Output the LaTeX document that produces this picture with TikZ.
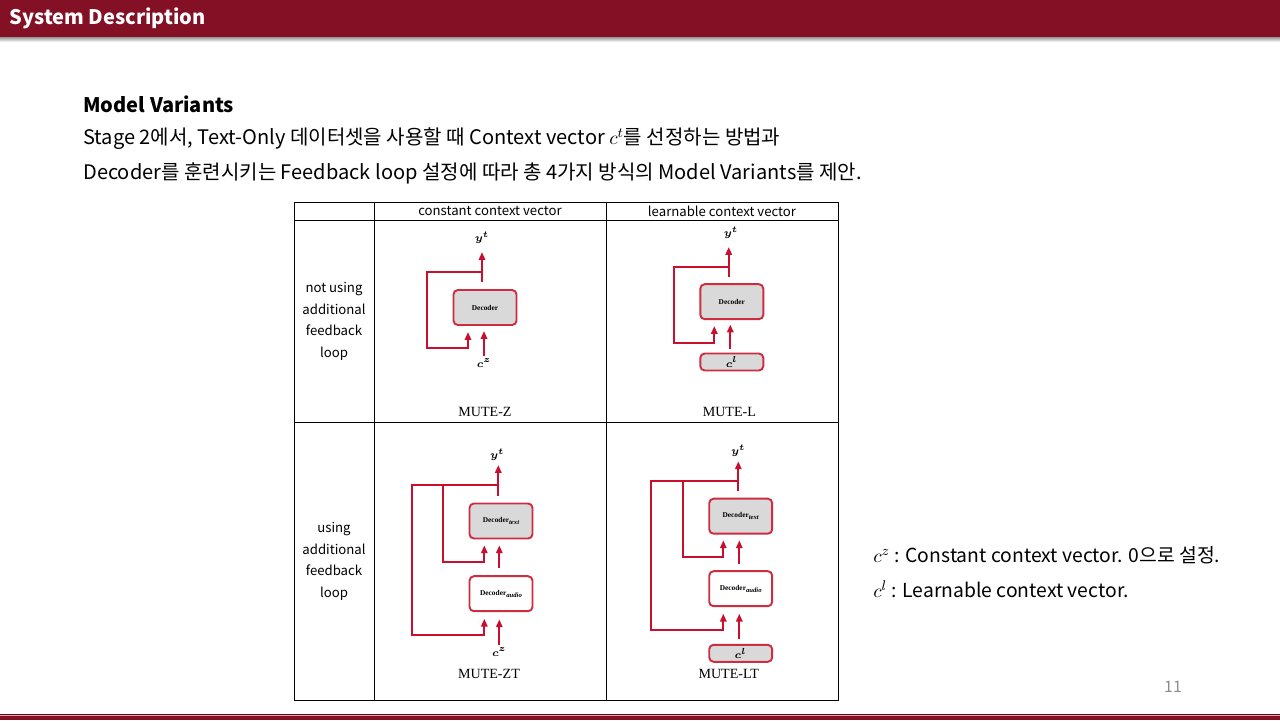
\documentclass[tikz,border=0pt]{standalone}
\usepackage{fontspec}
\setmainfont{Noto Sans CJK KR}
\newfontfamily\paperserif{Liberation Serif}
\usetikzlibrary{arrows.meta,calc}
\definecolor{crim}{RGB}{132,16,38}
\definecolor{redarr}{RGB}{200,16,46}
\definecolor{boxred}{RGB}{205,45,65}
\definecolor{boxgray}{RGB}{217,217,217}
\definecolor{pinkline}{RGB}{232,160,165}
\def\pxu{0.56906pt}
\newcommand\subtxt[1]{\raisebox{-1.1pt}{\fontsize{3.8}{4}\selectfont\itshape #1}}
\tikzset{
  ln/.style={draw=redarr, line width=1.2pt},
  arr/.style={ln, -{Triangle[length=4.5pt,width=3.6pt]}},
  dbox/.style={draw=boxred, line width=1.1pt, rounded corners=2.5pt, fill=boxgray,
    minimum width=63*\pxu, minimum height=35*\pxu, inner sep=0pt,
    font=\paperserif\bfseries\fontsize{4.2}{5}\selectfont},
  wbox/.style={dbox, fill=white},
  cbox/.style={dbox, minimum height=17*\pxu, font=\fontsize{6.5}{7}\selectfont\boldmath},
  lab/.style={inner sep=0pt, font=\fontsize{6.5}{7}\selectfont\boldmath},
  mute/.style={inner sep=0pt, font=\paperserif\fontsize{8}{9}\selectfont},
  hdr/.style={inner sep=0pt, font=\fontsize{7.5}{9}\selectfont},
  cell/.style={inner sep=0pt, align=center, font=\fontsize{7.5}{12.2}\selectfont},
  body/.style={anchor=west, inner sep=0pt, font=\fontsize{11.4}{13}\selectfont},
  grid/.style={draw=black, line width=0.45pt}
}
\begin{document}
\begin{tikzpicture}[x=0.02cm, y=-0.02cm]
\useasboundingbox (0,0) rectangle (1280,720);
\fill[white] (0,0) rectangle (1280,720);
% header
\shade[top color=black!50, bottom color=white] (0,36) rectangle (1280,42);
\fill[crim] (0,0) rectangle (1280,36.5);
\node[anchor=west, inner sep=0pt, text=white, font=\bfseries\fontsize{11.4}{14}\selectfont] (title) at (9,18) {System Description};
% footer
\draw[crim!70!black, line width=0.5pt] (0,714.2) -- (1280,714.2);
\fill[pinkline] (0,714.6) rectangle (1280,716.3);
\fill[crim] (0,716.3) rectangle (1280,720);
% body text
\node[body, font=\bfseries\fontsize{11.4}{13}\selectfont] (mv) at (83,104) {Model Variants};
\node[body] (l1) at (83,139) {Stage 2에서, Text-Only 데이터셋을 사용할 때 Context vector $c^t$를 선정하는 방법과};
\node[body] (l2) at (83,173) {Decoder를 훈련시키는 Feedback loop 설정에 따라 총 4가지 방식의 Model Variants를 제안.};
% table grid
\draw[grid] (294,202) rectangle (838,700);
\draw[grid] (374,202) -- (374,700);
\draw[grid] (606,202) -- (606,700);
\draw[grid] (294,220) -- (838,220);
\draw[grid] (294,422) -- (838,422);
\node[hdr] (h1) at (490,211) {constant context vector};
\node[hdr] (h2) at (722,211) {learnable context vector};
\node[cell] (r1) at (334,321.5) {not using\\additional\\feedback\\loop};
\node[cell] (r2) at (334,561.5) {using\\additional\\feedback\\loop};
% ---------- MUTE-Z
\node[dbox] (zd) at (485,307.5) {Decoder};
\node[lab] (zy) at (482,238) {$y^t$};
\node[lab] (zc) at (484,363) {$c^z$};
\node[mute] (zm) at (485,412) {MUTE-Z};
\coordinate (zyo) at (482,282);
\coordinate (zyt) at (482,252);
\coordinate (zbr) at (482,272);
\coordinate (zlp) at (427,348);
\coordinate (zft) at (468,332);
\coordinate (zis) at (484,356);
\coordinate (zit) at (484,331);
\draw[arr] (zyo) -- (zyt);
\draw[arr] (zbr) -| (zlp) -| (zft);
\draw[arr] (zis) -- (zit);
% ---------- MUTE-L
\node[dbox] (ld) at (731.8,301.7) {Decoder};
\node[cbox] (lc) at (731.8,362) {$c^l$};
\node[lab] (ly) at (731,233) {$y^t$};
\node[mute] (lm) at (729.3,412) {MUTE-L};
\coordinate (lyo) at (728.7,277);
\coordinate (lyt) at (728.7,247);
\coordinate (lbr) at (728.7,267);
\coordinate (llp) at (674,343);
\coordinate (lft) at (714.3,326);
\coordinate (lis) at (730.3,349);
\coordinate (lit) at (730.3,324.5);
\draw[arr] (lyo) -- (lyt);
\draw[arr] (lbr) -| (llp) -| (lft);
\draw[arr] (lis) -- (lit);
% ---------- MUTE-ZT
\node[dbox] (ztt) at (501,521) {Decoder\subtxt{text}};
\node[wbox] (zta) at (501,593.7) {Decoder\subtxt{audio}};
\node[lab] (zty) at (497.3,455) {$y^t$};
\node[lab] (ztc) at (499.3,652) {$c^z$};
\node[mute] (ztm) at (489,674) {MUTE-ZT};
\coordinate (ztyo) at (498.3,496);
\coordinate (ztyt) at (498.3,465);
\coordinate (ztbr) at (498.3,484.7);
\coordinate (ztol) at (411.7,635.3);
\coordinate (ztot) at (484.3,618.7);
\coordinate (ztib) at (442.7,484.7);
\coordinate (ztil) at (484.3,562);
\coordinate (ztit) at (484.3,545.3);
\coordinate (ztms) at (499.3,568);
\coordinate (ztmt) at (499.3,545.3);
\coordinate (ztis) at (499.3,645.3);
\coordinate (ztitp) at (499.3,619.3);
\draw[arr] (ztyo) -- (ztyt);
\draw[arr] (ztbr) -| (ztol) -| (ztot);
\draw[arr] (ztib) |- (ztil) -- (ztit);
\draw[arr] (ztms) -- (ztmt);
\draw[arr] (ztis) -- (ztitp);
% ---------- MUTE-LT
\node[dbox] (ltt) at (740.7,516.2) {Decoder\subtxt{text}};
\node[wbox] (lta) at (740.7,588.7) {Decoder\subtxt{audio}};
\node[cbox] (ltc) at (740.7,653.3) {$c^l$};
\node[lab] (lty) at (738.3,451) {$y^t$};
\node[mute] (ltm) at (728.7,674) {MUTE-LT};
\coordinate (ltyo) at (738.3,491.3);
\coordinate (ltyt) at (738.3,461.3);
\coordinate (ltbr) at (738.3,481);
\coordinate (ltol) at (651,630.3);
\coordinate (ltot) at (723.3,613.7);
\coordinate (ltib) at (683.3,481);
\coordinate (ltil) at (723.3,557);
\coordinate (ltit) at (723.3,540.3);
\coordinate (ltms) at (739.3,563.7);
\coordinate (ltmt) at (739.3,540.3);
\coordinate (ltis) at (739.3,638.7);
\coordinate (ltitp) at (739.3,613.7);
\draw[arr] (ltyo) -- (ltyt);
\draw[arr] (ltbr) -| (ltol) -| (ltot);
\draw[arr] (ltib) |- (ltil) -- (ltit);
\draw[arr] (ltms) -- (ltmt);
\draw[arr] (ltis) -- (ltitp);
% legend
\node[body, font=\fontsize{11}{13}\selectfont] (lgz) at (873,555) {$c^z$ : Constant context vector. 0으로 설정.};
\node[body, font=\fontsize{11}{13}\selectfont] (lgl) at (873,589) {$c^l$ : Learnable context vector.};
\node[inner sep=0pt, text=black!45, font=\fontsize{9}{10}\selectfont] (pg) at (1173,687) {11};
\end{tikzpicture}
\end{document}
